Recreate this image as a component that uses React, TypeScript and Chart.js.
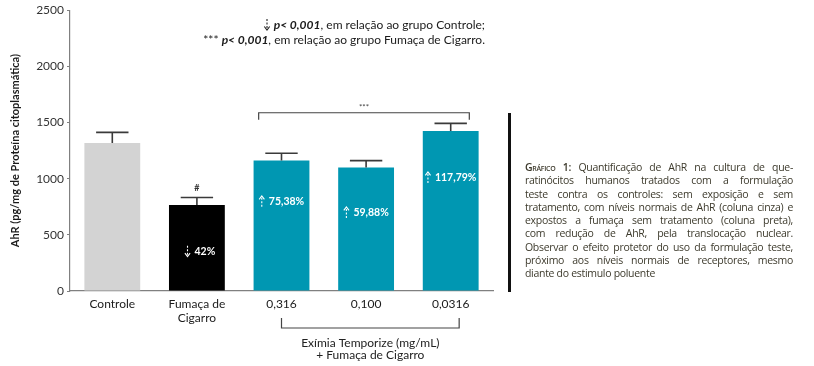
import React, { useEffect, useRef } from "react";
import { Chart, registerables } from "chart.js";

Chart.register(...registerables);

const categories: (string | string[])[] = ["Controle", ["Fumaça de", "Cigarro"], "0,316", "0,100", "0,0316"];
const values = [1318, 765, 1161, 1099, 1425];
const errors = [94, 68, 65, 62, 67];
const barColors = ["#d3d3d3", "#000000", "#0097b2", "#0097b2", "#0097b2"];
const barArrowDown = [false, true, false, false, false];
const barLabels = ["", "42%", "75,38%", "59,88%", "117,79%"];
const barLabelAt = [0, 355, 798, 700, 1011];
const yTicks = [0, 500, 1000, 1500, 2000, 2500];
const bracketTop = 1587;
const bracketTick = 1525;

const FONT = "Lato, 'Open Sans', sans-serif";

const captionLines = [
  "Quantificação de AhR na cultura de que-",
  "ratinócitos humanos tratados com a formulação",
  "teste contra os controles: sem exposição e sem",
  "tratamento, com níveis normais de AhR (coluna cinza) e",
  "expostos a fumaça sem tratamento (coluna preta),",
  "com redução de AhR, pela translocação nuclear.",
  "Observar o efeito protetor do uso da formulação teste,",
  "próximo aos níveis normais de receptores, mesmo",
  "diante do estimulo poluente",
];

function dashedArrow(ctx: any, x: number, yc: number, down: boolean, color: string) {
  const h = 11;
  const y0 = yc - h / 2;
  const y1 = yc + h / 2;
  ctx.save();
  ctx.strokeStyle = color;
  ctx.lineWidth = 1.1;
  ctx.setLineDash([2, 1.5]);
  ctx.beginPath();
  if (down) {
    ctx.moveTo(x, y0);
    ctx.lineTo(x, y1 - 1);
  } else {
    ctx.moveTo(x, y1);
    ctx.lineTo(x, y0 + 1);
  }
  ctx.stroke();
  ctx.setLineDash([]);
  ctx.beginPath();
  if (down) {
    ctx.moveTo(x - 2.6, y1 - 3.5);
    ctx.lineTo(x, y1);
    ctx.lineTo(x + 2.6, y1 - 3.5);
  } else {
    ctx.moveTo(x - 2.6, y0 + 3.5);
    ctx.lineTo(x, y0);
    ctx.lineTo(x + 2.6, y0 + 3.5);
  }
  ctx.stroke();
  ctx.restore();
}

const annotPlugin = {
  id: "annot",
  afterDatasetsDraw(chart: any) {
    const ctx = chart.ctx;
    const xs = chart.scales.x;
    const ys = chart.scales.y;
    const meta = chart.getDatasetMeta(0);
    ctx.save();
    meta.data.forEach((bar: any, i: number) => {
      const x = bar.x;
      const yTop = ys.getPixelForValue(values[i]);
      const yErr = ys.getPixelForValue(values[i] + errors[i]);
      const half = bar.width * 0.29;
      ctx.strokeStyle = "#3a3a3a";
      ctx.lineWidth = 1.6;
      ctx.beginPath();
      ctx.moveTo(x, yTop);
      ctx.lineTo(x, yErr);
      ctx.moveTo(x - half, yErr);
      ctx.lineTo(x + half, yErr);
      ctx.stroke();
      if (barLabels[i]) {
        const ly = ys.getPixelForValue(barLabelAt[i]);
        ctx.fillStyle = "#ffffff";
        ctx.textBaseline = "middle";
        ctx.font = `bold 10.5px ${FONT}`;
        const tw = ctx.measureText(barLabels[i]).width;
        const aw = 6;
        const gap = 4;
        const total = aw + gap + tw;
        const start = x - total / 2 + (i === 1 ? 3 : 0);
        dashedArrow(ctx, start + aw / 2, ly, barArrowDown[i], "#ffffff");
        ctx.textAlign = "left";
        ctx.fillText(barLabels[i], start + aw + gap, ly + 0.5);
      }
    });
    const b1 = meta.data[1];
    ctx.fillStyle = "#333";
    ctx.font = `bold 9px ${FONT}`;
    ctx.textAlign = "center";
    ctx.textBaseline = "middle";
    ctx.fillText("#", b1.x, ys.getPixelForValue(values[1] + errors[1]) - 9);

    const step = xs.getPixelForValue(1) - xs.getPixelForValue(0);
    const x2 = xs.getPixelForValue(2) - 0.27 * step;
    const x4 = xs.getPixelForValue(4) + 0.22 * step;
    const yb = ys.getPixelForValue(bracketTop);
    const ybt = ys.getPixelForValue(bracketTick);
    ctx.strokeStyle = "#444";
    ctx.lineWidth = 1.2;
    ctx.beginPath();
    ctx.moveTo(x2, ybt);
    ctx.lineTo(x2, yb);
    ctx.lineTo(x4, yb);
    ctx.lineTo(x4, ybt);
    ctx.stroke();
    ctx.fillStyle = "#444";
    ctx.font = `8px ${FONT}`;
    ctx.fillText("***", (x2 + x4) / 2, yb - 5);

    const bottom = chart.chartArea.bottom;
    const lx1 = xs.getPixelForValue(2);
    const lx2 = xs.getPixelForValue(4) + 0.1 * step;
    ctx.strokeStyle = "#444";
    ctx.lineWidth = 1.2;
    ctx.beginPath();
    ctx.moveTo(lx1, bottom + 27);
    ctx.lineTo(lx1, bottom + 37);
    ctx.lineTo(lx2, bottom + 37);
    ctx.lineTo(lx2, bottom + 27);
    ctx.stroke();
    ctx.fillStyle = "#222";
    ctx.font = `12px ${FONT}`;
    const cx = (lx1 + lx2) / 2;
    ctx.fillText("Exímia Temporize (mg/mL)", cx, bottom + 52);
    ctx.fillText("+ Fumaça de Cigarro", cx, bottom + 64);
    ctx.restore();
  },
};

function NoteArrow() {
  return (
    <svg width="8" height="12" viewBox="0 0 8 12" style={{ verticalAlign: "-2px", marginRight: 3 }}>
      <line x1="4" y1="0" x2="4" y2="10" stroke="#222" strokeWidth="1.1" strokeDasharray="2 1.5" />
      <polyline points="1.3,7.5 4,11 6.7,7.5" fill="none" stroke="#222" strokeWidth="1.1" />
    </svg>
  );
}

export default function App() {
  const ref = useRef<HTMLCanvasElement>(null);
  useEffect(() => {
    if (!ref.current) return;
    const chart = new Chart(ref.current, {
      type: "bar",
      data: {
        labels: categories as any,
        datasets: [
          {
            data: values,
            backgroundColor: barColors,
            barPercentage: 0.66,
            categoryPercentage: 1,
          },
        ],
      },
      options: {
        animation: false,
        responsive: false,
        layout: { padding: { top: 9, right: 321, left: 0, bottom: 0 } },
        plugins: { legend: { display: false }, tooltip: { enabled: false } },
        scales: {
          x: {
            afterFit(scale: any) {
              scale.height = 75;
            },
            grid: { display: false, drawTicks: false },
            border: { display: true, color: "#808080", width: 1.2 },
            ticks: { color: "#1a1a1a", font: { family: FONT, size: 12 }, padding: 6, maxRotation: 0 },
          },
          y: {
            min: 0,
            max: 2500,
            afterFit(scale: any) {
              scale.width = 70;
            },
            afterBuildTicks(scale: any) {
              scale.ticks = yTicks.map((v) => ({ value: v }));
            },
            grid: { drawOnChartArea: false, drawTicks: true, tickLength: 3, color: "#808080" },
            border: { display: true, color: "#808080", width: 1.2 },
            ticks: {
              color: "#333",
              font: { family: FONT, size: 12 },
              padding: 3,
              callback: (v: any) => String(v),
            },
            title: {
              display: true,
              text: "AhR (pg/mg de Proteína citoplasmática)",
              color: "#1a1a1a",
              font: { family: FONT, size: 11, weight: "bold" },
              padding: { top: 9, bottom: 0 },
            },
          },
        },
      },
      plugins: [annotPlugin],
    });
    return () => chart.destroy();
  }, []);

  const noteStyle: React.CSSProperties = {
    position: "absolute",
    right: 814 - 485,
    fontFamily: FONT,
    fontSize: 12,
    color: "#1a1a1a",
    whiteSpace: "nowrap",
    lineHeight: "15px",
  };

  return (
    <div style={{ position: "absolute", left: 0, top: 0, width: 814, height: 366, background: "#fff", overflow: "hidden" }}>
      <canvas ref={ref} width={814} height={366} style={{ position: "absolute", left: 0, top: 0 }} />
      <div style={{ ...noteStyle, top: 17 }}>
        <NoteArrow />
        <b><i>p&lt; 0,001</i></b>, em relação ao grupo Controle;
      </div>
      <div style={{ ...noteStyle, top: 32 }}>
        *** <b><i>p&lt; 0,001</i></b>, em relação ao grupo Fumaça de Cigarro.
      </div>
      <div style={{ position: "absolute", left: 508, top: 113, width: 2.5, height: 179, background: "#111" }} />
      <div
        style={{
          position: "absolute",
          left: 525,
          top: 161,
          width: 268,
          fontFamily: "'Open Sans', sans-serif",
          fontSize: 10.5,
          letterSpacing: "-0.3px",
          lineHeight: "13.3px",
          color: "#3d3a2c",
        }}
      >
        {captionLines.map((line, i) => (
          <div
            key={i}
            style={{
              whiteSpace: "nowrap",
              textAlign: "justify",
              textAlignLast: i < captionLines.length - 1 ? "justify" : "left",
            }}
          >
            {i === 0 ? (
              <span>
                <span style={{ fontVariant: "small-caps", fontWeight: 600 }}>Gráfico 1:</span>{" "}
              </span>
            ) : null}
            {line}
          </div>
        ))}
      </div>
    </div>
  );
}
